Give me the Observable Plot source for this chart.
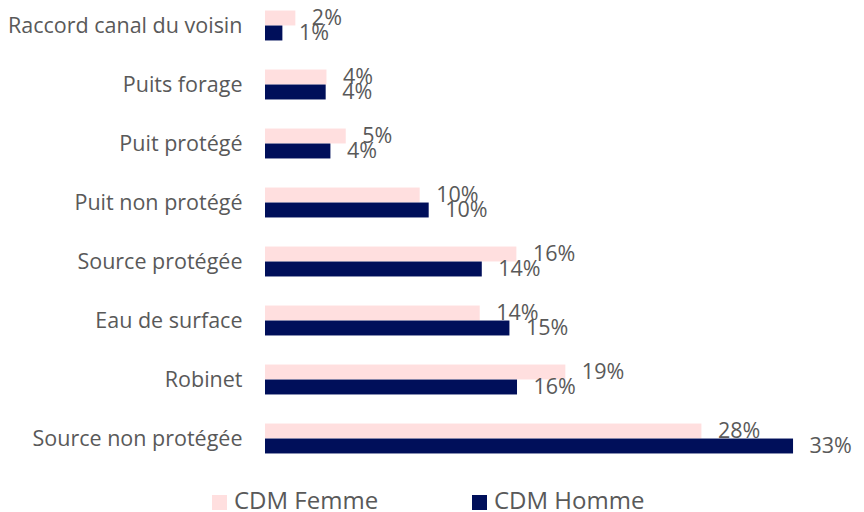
<!DOCTYPE html>
<html>
<head>
<meta charset="utf-8">
<script src="https://cdn.jsdelivr.net/npm/d3@7"></script>
<script src="https://cdn.jsdelivr.net/npm/@observablehq/plot@0.6"></script>
<style>
  html, body { margin: 0; padding: 0; background: #fff; }
  #wrap { position: relative; width: 864px; height: 512px; overflow: hidden; font-family: "Open Sans", sans-serif; }
  .leg { position: absolute; display: flex; align-items: flex-start; font-size: 24px; line-height: 24px; height: 24px; color: #595959; white-space: nowrap; }
  .sw { width: 15px; height: 15px; margin-right: 7px; margin-top: 7px; }
</style>
</head>
<body>
<div id="wrap"></div>
<script>
const categories = ["Raccord canal du voisin", "Puits forage", "Puit protégé", "Puit non protégé", "Source protégée", "Eau de surface", "Robinet", "Source non protégée"];
const series = ["CDM Femme", "CDM Homme"];
const femme = [1.92, 3.89, 5.11, 9.79, 15.91, 13.59, 19.01, 27.62];
const homme = [1.10, 3.84, 4.14, 10.36, 13.72, 15.47, 15.95, 33.42];
const xMax = 35;

const colors = {"CDM Femme": "#FFDFDF", "CDM Homme": "#000F5A"};
const femmeData = categories.map((c, i) => ({cat: c, v: femme[i]}));
const hommeData = categories.map((c, i) => ({cat: c, v: homme[i]}));

const yTop = -4.5, yBot = 468;
const bw = (yBot - yTop) / categories.length;
const barH = 15;
const fmt = d => Math.round(d.v) + "%";
const fs = 21.5;

const chart = Plot.plot({
  width: 864,
  height: 480,
  marginLeft: 265,
  marginRight: 46,
  marginTop: 0,
  marginBottom: 0,
  style: {fontFamily: "Open Sans", fontSize: fs + "px", color: "#595959", background: "#fff"},
  x: {domain: [0, xMax], axis: null},
  y: {type: "band", domain: categories, range: [yTop, yBot], padding: 0, label: null},
  marks: [
    Plot.barX(femmeData, {x: "v", y: "cat", fill: colors["CDM Femme"], insetTop: bw / 2 - barH, insetBottom: bw / 2}),
    Plot.barX(hommeData, {x: "v", y: "cat", fill: colors["CDM Homme"], insetTop: bw / 2, insetBottom: bw / 2 - barH}),
    Plot.text(femmeData, {x: "v", y: "cat", text: fmt, textAnchor: "start", dx: 16, dy: -barH / 2, fill: "#595959", fontSize: fs}),
    Plot.text(hommeData, {x: "v", y: "cat", text: fmt, textAnchor: "start", dx: 16, dy: barH / 2, fill: "#595959", fontSize: fs}),
    Plot.axisY({tickSize: 0, tickPadding: 23, fontSize: fs, label: null})
  ]
});

const wrap = document.getElementById("wrap");
wrap.appendChild(chart);

const legPos = [212, 472];
series.forEach((s, i) => {
  const d = document.createElement("div");
  d.className = "leg";
  d.style.left = legPos[i] + "px";
  d.style.top = "488px";
  const sw = document.createElement("span");
  sw.className = "sw";
  sw.style.background = colors[s];
  const t = document.createElement("span");
  t.textContent = s;
  d.appendChild(sw);
  d.appendChild(t);
  wrap.appendChild(d);
});
</script>
</body>
</html>
